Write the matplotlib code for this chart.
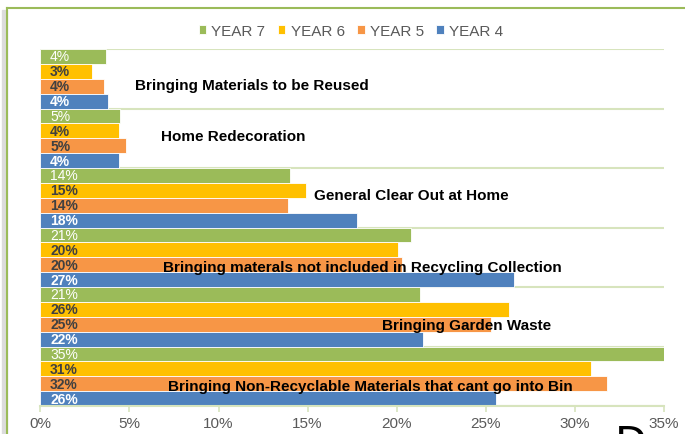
import matplotlib.pyplot as plt
from matplotlib.lines import Line2D
from matplotlib.patches import Rectangle

plt.rcParams['font.family'] = ['Liberation Sans', 'DejaVu Sans']

# categories, top to bottom
categories = ['Bringing Materials to be Reused',
              'Home Redecoration',
              'General Clear Out at Home',
              'Bringing materals not included in Recycling Collection',
              'Bringing Garden Waste',
              'Bringing Non-Recyclable Materials that cant go into Bin']

series = ['YEAR 7', 'YEAR 6', 'YEAR 5', 'YEAR 4']
year7 = [3.7, 4.5, 14.0, 20.8, 21.3, 35.0]
year6 = [2.9, 4.4, 14.9, 20.1, 26.3, 30.9]
year5 = [3.6, 4.8, 13.9, 20.3, 25.3, 31.8]
year4 = [3.8, 4.4, 17.8, 26.6, 21.5, 25.6]
label7 = ['4%', '5%', '14%', '21%', '21%', '35%']
label6 = ['3%', '4%', '15%', '20%', '26%', '31%']
label5 = ['4%', '5%', '14%', '20%', '25%', '32%']
label4 = ['4%', '4%', '18%', '27%', '22%', '26%']

colors = ['#9BBB59', '#FFC000', '#F79646', '#4F81BD']
label_colors = ['white', '#404040', '#404040', 'white']
label_weights = ['normal', 'bold', 'bold', 'bold']
# where the category name sits (x in %, offset in y)
name_x = [11.9, 10.8, 20.8, 18.1, 23.9, 18.5]
name_dy = [0.1, -0.04, -0.05, 0.16, 0.14, 0.16]

values = [year7, year6, year5, year4]
labels = [label7, label6, label5, label4]

fig = plt.figure(figsize=(6.85, 4.35), dpi=100)

# frame with a soft shadow on the left
fig.patches.append(Rectangle((2 / 685, 0), 5 / 685, 1 - 11 / 435,
                             transform=fig.transFigure, color='#dcdcdc', zorder=0))
fig.lines.append(Line2D([7 / 685, 1], [1 - 8.5 / 435, 1 - 8.5 / 435],
                        transform=fig.transFigure, color='#9BBB59', linewidth=1.5))
fig.lines.append(Line2D([7 / 685, 7 / 685], [0, 1 - 8.5 / 435],
                        transform=fig.transFigure, color='#9BBB59', linewidth=1.5))

ax = fig.add_axes([40.3 / 685, 1 - 407 / 435, (664 - 40.3) / 685, 357 / 435])
ax.set_zorder(2)
ax.patch.set_alpha(0)

h = 0.25
offsets = [-0.375, -0.125, 0.125, 0.375]
ypos = list(range(len(categories)))
for s in range(4):
    ys = [y + offsets[s] for y in ypos]
    ax.barh(ys, values[s], height=h, color=colors[s], edgecolor='white',
            linewidth=0.6, label=series[s], zorder=2)
    for y, lab in zip(ys, labels[s]):
        ax.text(0.55, y, lab, color=label_colors[s], fontsize=10,
                fontweight=label_weights[s], va='center', ha='left', zorder=4)

for i, name in enumerate(categories):
    ax.text(name_x[i], i + name_dy[i], name, fontsize=11, fontweight='bold',
            color='black', ha='center', va='center', zorder=5)

for b in range(len(categories) + 1):
    ax.axhline(b - 0.5, color='#D7E4BD', linewidth=1.5, zorder=1)

ax.set_ylim(len(categories) - 0.5, -0.5)
ax.set_xlim(0, 35)
ax.set_xticks([0, 5, 10, 15, 20, 25, 30, 35])
ax.set_xticklabels(['0%', '5%', '10%', '15%', '20%', '25%', '30%', '35%'])
ax.set_yticks([])
ax.tick_params(axis='x', colors='#D7E4BD', labelcolor='#595959', labelsize=11,
               length=4, width=1.2)
for side in ['top', 'right', 'left']:
    ax.spines[side].set_visible(False)
ax.spines['bottom'].set_color('#D7E4BD')
ax.spines['bottom'].set_linewidth(1.5)

ax.legend(loc='center', bbox_to_anchor=(351 / 685, 1 - 32 / 435),
          bbox_transform=fig.transFigure, ncol=4, frameon=False, fontsize=11,
          handlelength=0.5, handleheight=0.5, handletextpad=0.35, columnspacing=0.8,
          labelcolor='#595959')

fig.text(615 / 685, 1 - 424 / 435, 'D', fontsize=30, ha='left', va='top',
         family='DejaVu Sans')

fig.savefig('out.png', dpi=100)
